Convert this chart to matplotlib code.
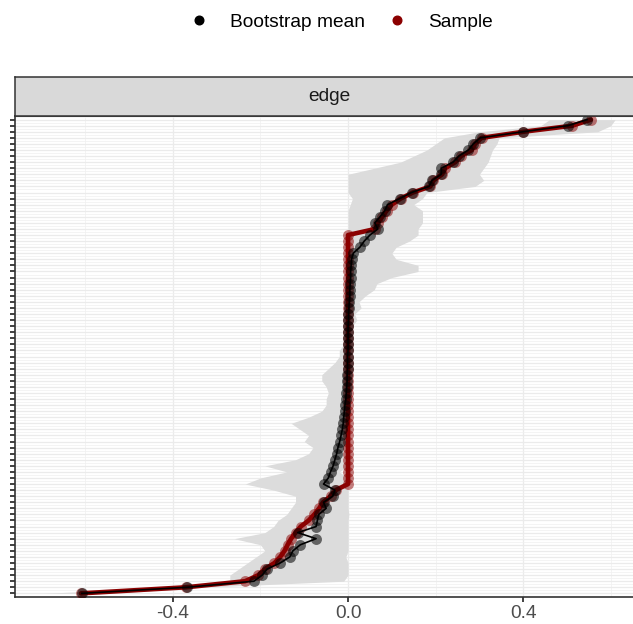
import numpy as np
import matplotlib
matplotlib.use("Agg")
import matplotlib.pyplot as plt
from matplotlib.lines import Line2D

plt.rcParams["font.family"] = ["Liberation Sans", "DejaVu Sans"]

# Data (rows ordered by sample value, bottom -> top)
sample = [
    -0.610, -0.370, -0.235, -0.205, -0.190, -0.168, -0.155, -0.145, -0.138,
    -0.130, -0.120, -0.108, -0.090, -0.077, -0.066, -0.057, -0.040, -0.028,
    0.0, 0.0, 0.0, 0.0, 0.0, 0.0, 0.0, 0.0, 0.0, 0.0, 0.0, 0.0, 0.0, 0.0,
    0.0, 0.0, 0.0, 0.0, 0.0, 0.0, 0.0, 0.0, 0.0, 0.0, 0.0, 0.0, 0.0, 0.0,
    0.0, 0.0, 0.0, 0.0, 0.0, 0.0, 0.0, 0.0, 0.0, 0.0, 0.0, 0.0, 0.0, 0.0,
    0.062, 0.068, 0.078, 0.088, 0.100, 0.120, 0.148, 0.188, 0.195, 0.215,
    0.222, 0.245, 0.258, 0.283, 0.290, 0.305, 0.400, 0.512, 0.555,
]
boot_mean = [
    -0.608, -0.368, -0.215, -0.196, -0.185, -0.155, -0.133, -0.126, -0.109,
    -0.073, -0.115, -0.073, -0.070, -0.067, -0.050, -0.056, -0.035, -0.030,
    -0.056, -0.045, -0.040, -0.034, -0.030, -0.026, -0.023, -0.019, -0.016,
    -0.013, -0.011, -0.010, -0.008, -0.007, -0.005, -0.004, -0.003, -0.002,
    -0.002, -0.001, -0.001, -0.001, 0.000, 0.000, 0.000, 0.000, 0.000,
    0.001, 0.001, 0.002, 0.003, 0.004, 0.004, 0.005, 0.006, 0.006, 0.007,
    0.008, 0.012, 0.027, 0.037, 0.050,
    0.068, 0.061, 0.073, 0.084, 0.090, 0.118, 0.145, 0.185, 0.192, 0.213,
    0.213, 0.240, 0.253, 0.275, 0.286, 0.302, 0.399, 0.502, 0.546,
]
ci_low = [
    -0.695, -0.400, -0.270, -0.270, -0.250, -0.230, -0.210, -0.190, -0.200,
    -0.260, -0.190, -0.170, -0.160, -0.140, -0.130, -0.120, -0.120, -0.170,
    -0.235, -0.200, -0.140, -0.190, -0.120, -0.090, -0.080, -0.100, -0.090,
    -0.110, -0.130, -0.090, -0.060, -0.050, -0.050, -0.045, -0.050, -0.060,
    -0.060, -0.045, -0.030, -0.020, -0.020, -0.010, -0.010, -0.005, 0.0,
    0.0, 0.0, 0.0, 0.0, 0.0, 0.0, 0.0, 0.0, 0.0, 0.0, 0.0, 0.0, 0.0, 0.0,
    0.0, 0.0, 0.0, 0.0, 0.0, 0.005, 0.010, 0.0, 0.0, 0.0, 0.0,
    0.060, 0.120, 0.150, 0.180, 0.200, 0.220, 0.300, 0.440, 0.460,
]
ci_high = [
    -0.550, -0.330, -0.010, 0.0, 0.0, 0.0, -0.005, 0.0, 0.0,
    0.0, 0.0, 0.0, 0.0, 0.002, 0.0, 0.0, 0.0, 0.0,
    0.0, 0.0, -0.020, 0.0, 0.0, 0.0, 0.0, 0.0, 0.0,
    0.0, 0.0, 0.0, 0.0, 0.0, 0.0, 0.0, 0.0, 0.0,
    0.0, 0.0, 0.0, 0.0, 0.005, 0.008, 0.010, 0.006, 0.010,
    0.020, 0.015, 0.030, 0.025, 0.040, 0.060, 0.066, 0.100, 0.160, 0.160,
    0.110, 0.100, 0.110, 0.140, 0.160,
    0.160, 0.170, 0.170, 0.170, 0.150, 0.170, 0.180, 0.290, 0.310, 0.300,
    0.310, 0.320, 0.325, 0.330, 0.340, 0.345, 0.570, 0.600, 0.610,
]
panel_label = "edge"
x_ticks = [-0.4, 0.0, 0.4]
x_ticklabels = ["-0.4", "0.0", "0.4"]

rows = np.arange(1, len(sample) + 1)

W, H = 633, 624
fig = plt.figure(figsize=(W / 100, H / 100), dpi=100)

# panel runs past the right edge of the picture, as in the reference
left_px, right_px, top_px, bottom_px = 15.3, 644, 116, 597
ax = fig.add_axes([left_px / W, 1 - bottom_px / H,
                   (right_px - left_px) / W, (bottom_px - top_px) / H])

ax.fill_betweenx(rows, ci_low, ci_high, color="#DCDCDC", lw=0, zorder=1)
ax.plot(sample, rows, color="#8B0000", lw=3.3, zorder=2, solid_capstyle="round")
ax.scatter(sample, rows, s=62, color="#8B0000", alpha=0.5, lw=0, zorder=3)
ax.plot(boot_mean, rows, color="black", lw=1.2, zorder=4)
ax.scatter(boot_mean, rows, s=62, color="black", alpha=0.55, lw=0, zorder=5)

ax.set_xlim(-0.760, 0.676)
ax.set_ylim(0.4, len(sample) + 0.6)

ax.set_xticks(x_ticks)
ax.set_xticklabels(x_ticklabels)
ax.set_xticks([-0.6, -0.2, 0.2, 0.6], minor=True)
ax.set_yticks(rows)
ax.set_yticklabels([])
ax.set_yticks(rows + 0.5, minor=True)

ax.set_axisbelow(True)
ax.grid(which="major", color="#EBEBEB", lw=0.9)
ax.grid(which="minor", color="#F0F0F0", lw=0.5)
ax.tick_params(axis="both", which="major", length=3.8, width=1.3,
               color="#333333", labelsize=13.8, labelcolor="#4D4D4D", pad=2)
ax.tick_params(axis="both", which="minor", length=0)
for s in ax.spines.values():
    s.set_color("#333333")
    s.set_linewidth(1.2)

# facet strip
sax = fig.add_axes([left_px / W, 1 - top_px / H,
                    (right_px - left_px) / W, (top_px - 77) / H])
sax.set_facecolor("#D9D9D9")
sax.set_xticks([])
sax.set_yticks([])
for s in sax.spines.values():
    s.set_color("#333333")
    s.set_linewidth(1.1)
sax.text(0.5, 0.5, panel_label, ha="center", va="center",
         fontsize=13.8, color="#1A1A1A", transform=sax.transAxes)

handles = [
    Line2D([], [], marker="o", ls="none", color="black", markersize=6.2),
    Line2D([], [], marker="o", ls="none", color="#8B0000", markersize=6.2),
]
fig.legend(handles, ["Bootstrap mean", "Sample"], loc="center",
           bbox_to_anchor=(341 / W, 1 - 22 / H), ncol=2, frameon=False,
           fontsize=13.8, handlelength=1.0, handletextpad=1.1,
           columnspacing=1.2)

fig.savefig("out.png", dpi=100)
